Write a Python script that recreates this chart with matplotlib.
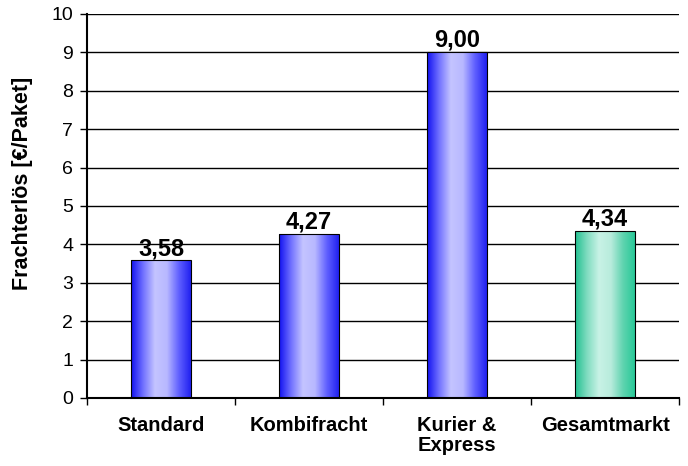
import numpy as np
import matplotlib

matplotlib.use("Agg")
import matplotlib.pyplot as plt  # noqa: E402
from matplotlib.colors import LinearSegmentedColormap  # noqa: E402

plt.rcParams["font.family"] = ["Liberation Sans", "DejaVu Sans"]

categories = ["Standard", "Kombifracht", "Kurier &\nExpress", "Gesamtmarkt"]
values = [3.58, 4.27, 9.00, 4.34]
bar_kinds = ["blue", "blue", "blue", "green"]

cmaps = {
    "blue": LinearSegmentedColormap.from_list(
        "b", ["#1010f0", "#7070ff", "#c4c4ff", "#b8b8ff", "#6060ff", "#2020f0"]),
    "green": LinearSegmentedColormap.from_list(
        "g", ["#20c090", "#80dcc0", "#c8f2e6", "#b8ecdc", "#60d4b0", "#28c898"]),
}

fig = plt.figure(figsize=(6.88, 4.66), dpi=100)
ax = fig.add_axes([0.1265, 0.146, 0.8605, 0.824])

x = np.arange(len(categories))
width = 0.405
grad = np.linspace(0, 1, 256).reshape(1, -1)

ax.set_axisbelow(True)
ax.yaxis.grid(True, color="black", linewidth=1.0)
for xi, v, kind in zip(x, values, bar_kinds):
    ax.imshow(grad, cmap=cmaps[kind], aspect="auto",
              extent=(xi - width / 2, xi + width / 2, 0, v), zorder=2)
    ax.text(xi, v + 0.01, f"{v:.2f}".replace(".", ","), ha="center", va="bottom",
            fontsize=17, fontweight="bold", zorder=4)
ax.bar(x, values, width, facecolor="none", edgecolor="black", linewidth=0.8, zorder=3)

ax.set_xlim(-0.5, len(categories) - 0.5)
ax.set_ylim(0, 10)
ax.set_yticks(range(0, 11))
ax.tick_params(axis="y", labelsize=14, length=5, width=1, direction="out", pad=5)

ax.set_xticks(np.arange(-0.5, len(categories)), minor=False)
ax.set_xticklabels([])
ax.set_xticks(x, minor=True)
ax.set_xticklabels(categories, minor=True, fontsize=14.5, fontweight="bold", va="top",
                   linespacing=1.05)
ax.tick_params(axis="x", which="major", length=5, width=1, direction="out")
ax.tick_params(axis="x", which="minor", length=0, pad=13)

for side in ("top", "right"):
    ax.spines[side].set_visible(False)
ax.spines["left"].set_linewidth(1.5)
ax.spines["bottom"].set_linewidth(1.5)

ax.set_ylabel("Frachterlös [€/Paket]", fontsize=15.5, fontweight="bold")
ax.yaxis.set_label_coords(-0.092, 0.56)

fig.savefig("out.png", dpi=100)
